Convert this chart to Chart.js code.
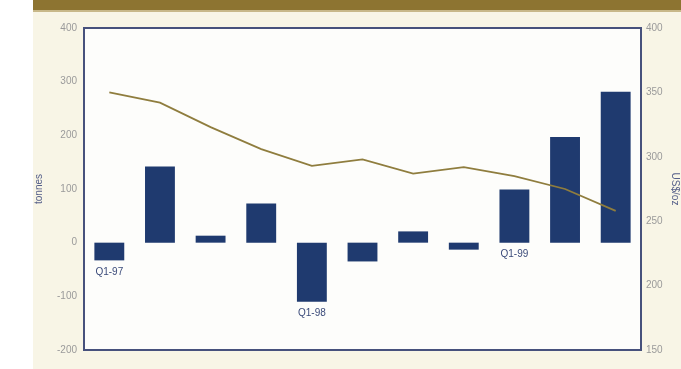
<!DOCTYPE html>
<html>
<head>
<meta charset="utf-8">
<script src="https://cdn.jsdelivr.net/npm/chart.js@4"></script>
<style>
  html, body { margin: 0; padding: 0; background: #ffffff; }
  #page { position: relative; width: 681px; height: 369px; overflow: hidden; }
  #cream { position: absolute; left: 33px; top: 0; width: 648px; height: 369px; background: #f8f5e6; }
  #band { position: absolute; left: 33px; top: 0; width: 648px; height: 10px; background: #8d7431; border-bottom: 2px solid #c8b889; }
  canvas { position: absolute; left: 0; top: 0; }
</style>
</head>
<body>
<div id="page">
  <div id="cream"></div>
  <div id="band"></div>
  <canvas id="goldChart" width="681" height="369"></canvas>
</div>
<script>
let quarters = [
    "Q1-97", "Q2-97", "Q3-97", "Q4-97",
    "Q1-98", "Q2-98", "Q3-98", "Q4-98",
    "Q1-99", "Q2-99", "Q3-99"
]

// change in tonnes (left axis)
let tonnes = [-33, 142, 13, 73, -110, -35, 21, -13, 99, 197, 281]

// price US$/oz (right axis)
let price = [350, 342, 323, 306, 293, 298, 287, 292, 285, 275, 258]

let leftTicks = [-200, -100, 0, 100, 200, 300, 400]
let rightTicks = [150, 200, 250, 300, 350, 400]

const navy = `#1f3a6f`

// white plot box with navy frame
const plotBox = {
    id: `plotBox`,
    beforeDatasetsDraw(chart) {
        const a = chart.chartArea
        const c = chart.ctx
        c.save()
        c.fillStyle = `#fdfdfb`
        c.fillRect(a.left, a.top, a.width, a.height)
        c.restore()
    },
    afterDraw(chart) {
        const a = chart.chartArea
        const c = chart.ctx
        c.save()
        c.strokeStyle = `#47517c`
        c.lineWidth = 2
        c.strokeRect(a.left, a.top, a.width, a.height)
        c.restore()
    }
}

// Q1 labels sit just under each bar (or under zero)
const quarterLabels = {
    id: `quarterLabels`,
    afterDatasetsDraw(chart) {
        const c = chart.ctx
        const x = chart.scales.x
        const y = chart.scales.y
        c.save()
        c.fillStyle = `#3b4b7a`
        c.font = `10px "Liberation Sans", Arial, sans-serif`
        c.textAlign = `center`
        c.textBaseline = `top`
        quarters.forEach((q, i) => {
            if (!q.startsWith(`Q1`)) return
            const base = y.getPixelForValue(Math.min(tonnes[i], 0))
            c.fillText(q, x.getPixelForValue(i), base + 7)
        })
        c.restore()
    }
}

function goldChart() {
    const ctx = document.getElementById(`goldChart`)
    const tickFont = { family: `"Liberation Sans", Arial, sans-serif`, size: 10 }

    new Chart(ctx, {
        data: {
            labels: quarters,
            datasets: [{
                type: `line`,
                label: `US$/oz`,
                data: price,
                yAxisID: `y1`,
                borderColor: `#8f7d3e`,
                borderWidth: 1.8,
                pointRadius: 0,
                tension: 0,
                order: 0
            }, {
                type: `bar`,
                label: `tonnes`,
                data: tonnes,
                yAxisID: `y`,
                backgroundColor: navy,
                categoryPercentage: 1,
                barPercentage: 0.59,
                order: 1
            }]
        },
        options: {
            responsive: false,
            animation: false,
            layout: { padding: { left: 33, top: 28, bottom: 19, right: 0 } },
            plugins: {
                legend: { display: false },
                tooltip: { enabled: false }
            },
            scales: {
                x: {
                    display: false,
                    offset: true
                },
                y: {
                    position: `left`,
                    min: -200,
                    max: 400,
                    afterBuildTicks: (s) => { s.ticks = leftTicks.map((v) => ({ value: v })) },
                    afterFit: (s) => { s.width = 51 },
                    grid: { display: false, drawTicks: false },
                    border: { display: false },
                    ticks: { color: `#9a9a9a`, font: tickFont, padding: 7 },
                    title: {
                        display: true,
                        text: `tonnes`,
                        color: `#56608a`,
                        font: tickFont,
                        padding: { top: 0, bottom: 0 }
                    }
                },
                y1: {
                    position: `right`,
                    min: 150,
                    max: 400,
                    afterBuildTicks: (s) => { s.ticks = rightTicks.map((v) => ({ value: v })) },
                    afterFit: (s) => { s.width = 40 },
                    grid: { display: false, drawTicks: false },
                    border: { display: false },
                    ticks: { color: `#9a9a9a`, font: tickFont, padding: 5 },
                    title: {
                        display: true,
                        text: `US$/oz`,
                        color: `#56608a`,
                        font: tickFont,
                        padding: { top: 0, bottom: -7 }
                    }
                }
            }
        },
        plugins: [plotBox, quarterLabels]
    })
}

goldChart()
</script>
</body>
</html>
